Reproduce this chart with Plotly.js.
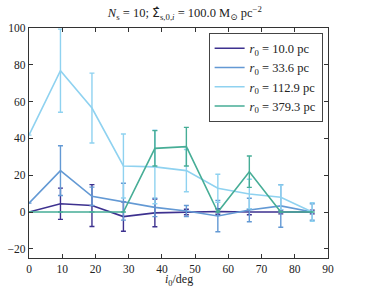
<!DOCTYPE html>
<html><head><meta charset="utf-8">
<script src="https://cdn.plot.ly/plotly-3.0.1.min.js"></script>
<style>html,body{margin:0;padding:0;background:#fff}#c{width:366px;height:288px}</style>
</head><body><div id="c"></div>
<script>
var inclination = [0, 9.47, 18.95, 28.42, 37.89, 47.37, 56.84, 66.32, 75.79, 85.26];
var labels = ["<i>r</i><sub>0</sub> = 10.0 pc", "<i>r</i><sub>0</sub> = 33.6 pc", "<i>r</i><sub>0</sub> = 112.9 pc", "<i>r</i><sub>0</sub> = 379.3 pc"];
var r10_val = [0, 4.5, 3.5, -2.5, -0.5, 0, 0.3, 0, 0, 0];
var r10_err = [0, 8.5, 11.4, 8, 7.5, 1.5, 1.5, 1.5, 1, 1];
var r33_val = [4.8, 22.5, 8.5, 5.6, 2.5, 0.5, -2.2, 1.1, 3.3, 0];
var r33_err = [0, 13.5, 5, 10, 5, 3, 8.5, 6.4, 11.6, 4.5];
var r112_val = [41.8, 76.8, 56.5, 25, 24.5, 22.5, 12.9, 9.8, 8, 0];
var r112_err = [0, 22.6, 19, 17.4, 20, 11.5, 7.6, 8, 6.7, 5];
var r379_val = [0, 0, 0, 0, 34.6, 35.5, 0, 21.9, 0, 0];
var r379_err = [0, 0, 0, 0, 9.6, 10.5, 0, 8.5, 0, 0];
var colors = ["#3d318f", "#6399d4", "#8fd2f0", "#46ad96"];
var vals = [r10_val, r33_val, r112_val, r379_val];
var errs = [r10_err, r33_err, r112_err, r379_err];
var traces = vals.map(function(v, k){
  return {x: inclination, y: v, type: 'scatter', mode: 'lines', name: labels[k],
    line: {color: colors[k], width: 1.6},
    error_y: {type: 'data', array: errs[k], visible: true, color: colors[k], thickness: 1.4, width: 2.5}};
});
var serif = 'Liberation Serif, DejaVu Serif, serif';
var fnt = {family: serif, size: 11.5, color: '#222'};
var axis = {showgrid: false, zeroline: false, showline: true, linecolor: '#333', linewidth: 1.2,
  mirror: 'ticks', ticks: 'inside', ticklen: 4, tickcolor: '#333', tickfont: fnt, automargin: false};
var layout = {
  width: 366, height: 288, margin: {l: 29, r: 38, t: 28, b: 30},
  paper_bgcolor: '#fff', plot_bgcolor: '#fff', font: fnt,
  title: {text: "<i>N</i><sub>s</sub> = 10; <span style=\"font-family:'DejaVu Sans'\">Σ\u0302</span><sub>s,0,<i>i</i></sub> = 100.0 M<sub>⊙</sub> pc<sup>−2</sup>",
    font: {family: serif, size: 12.5, color: '#222'}, x: 0.505, xanchor: 'center', y: 0.955, yanchor: 'middle'},
  xaxis: Object.assign({}, axis, {range: [0, 90], dtick: 10, tick0: 0}),
  yaxis: Object.assign({}, axis, {range: [-25, 100], tickvals: [-20, 0, 20, 40, 60, 80, 100]}),
  annotations: [{text: "<i>i</i><sub>0</sub>/deg", xref: 'paper', yref: 'paper', x: 0.5, y: -0.095,
    xanchor: 'center', yanchor: 'middle', showarrow: false, font: {family: serif, size: 12, color: '#222'}}],
  showlegend: true,
  legend: {x: 0.982, y: 0.98, xanchor: 'right', yanchor: 'top', bgcolor: '#fff', bordercolor: '#444', borderwidth: 1,
    font: {family: serif, size: 12.5, color: '#222'}, tracegroupgap: 0, itemwidth: 30}
};
Plotly.newPlot('c', traces, layout, {displayModeBar: false, staticPlot: true});
</script></body></html>
